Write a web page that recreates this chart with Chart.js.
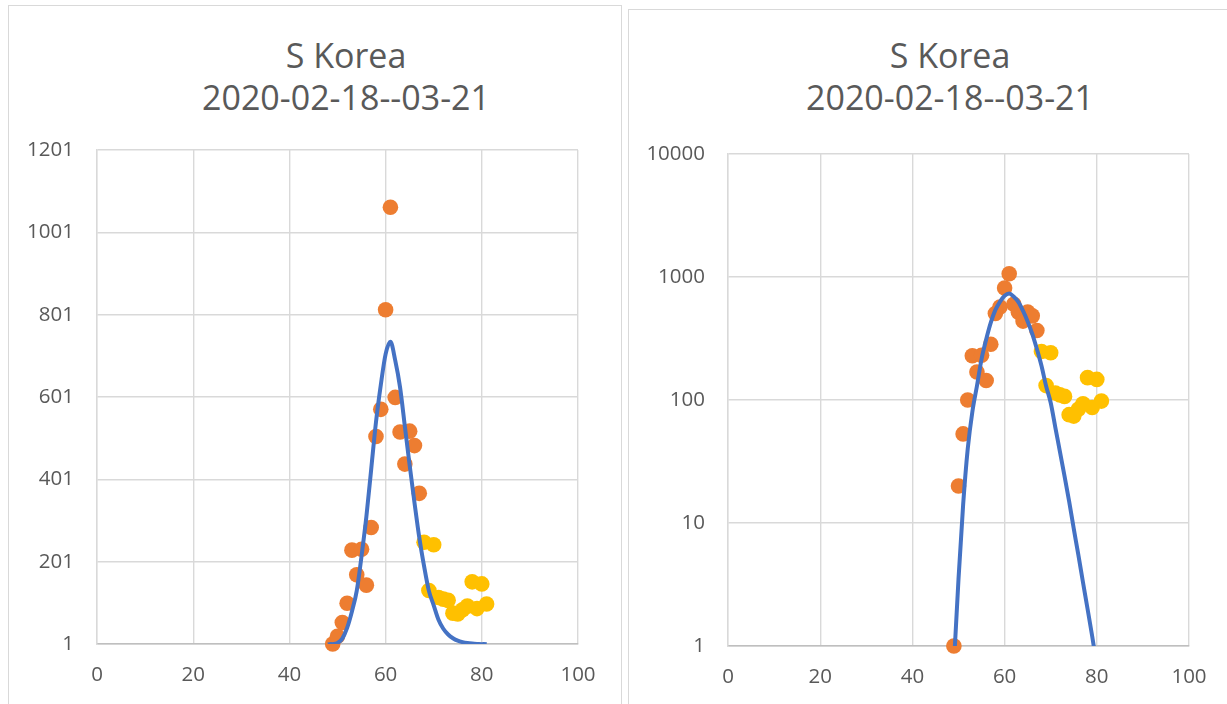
<!DOCTYPE html>
<html><head><meta charset="utf-8">
<script src="https://cdn.jsdelivr.net/npm/chart.js@4.4.1/dist/chart.umd.min.js"></script>
<style>
html,body{margin:0;padding:0;background:#fff;width:1227px;height:704px;overflow:hidden;position:relative;}
.panel{position:absolute;border:1px solid #d9d9d9;background:#fff;box-sizing:border-box;}
.title{position:absolute;font-family:"Open Sans",sans-serif;font-size:34px;line-height:42px;color:#595959;text-align:center;white-space:nowrap;width:600px;}
canvas{position:absolute;}
</style></head><body>
<div class="panel" style="left:8px;top:5px;width:614px;height:720px"></div>
<div class="panel" style="left:628px;top:9px;width:620px;height:720px"></div>
<div class="title" id="t1" style="left:46px;top:34px"></div>
<div class="title" id="t2" style="left:650px;top:34px"></div>
<canvas id="c1" width="614" height="699" style="left:8px;top:5px"></canvas>
<canvas id="c2" width="599" height="695" style="left:628px;top:9px"></canvas>
<script>
// ---- data ----
const titleLines = ["S Korea", "2020-02-18--03-21"];
const earlyDays = [49,50,51,52,53,54,55,56,57,58,59,60,61,62,63,64,65,66,67];
const earlyCases = [1,20,53,100,229,169,231,144,284,505,571,813,1062,600,516,438,518,483,367];
const lateDays = [68,69,70,71,72,73,74,75,76,77,78,79,80,81];
const lateCases = [248,131,242,114,110,107,76,74,84,93,152,87,147,98];
const fitDays = [48,49,50,51,52,53,54,55,56,57,58,59,60,61,62,63,64,65,66,67,68,69,70,71,72,73,74,75,76,77,78,79,80,81];
const fitCases = [0.13,0.7,3.5,14,40,80,130,215,310,425,540,630,705,735,690,625,530,435,345,260,190,130,95,60,38,24,15,9,5.5,3.3,2,1.2,0.7,0.4];
const xTicks = [0,20,40,60,80,100];
const linTicks = [1,201,401,601,801,1001,1201];
const logTicks = [1,10,100,1000,10000];

document.getElementById('t1').innerHTML = titleLines.join('<br>');
document.getElementById('t2').innerHTML = titleLines.join('<br>');

const pts = (xs, ys) => xs.map((x, i) => ({x: x, y: ys[i]}));
const TXT = '#595959';
const GRID = '#d9d9d9';

function makeChart(id, yType, yTickVals, g) {
  new Chart(document.getElementById(id), {
    type: 'scatter',
    data: {
      datasets: [
        {label: 'fit', data: pts(fitDays, fitCases), showLine: true, pointRadius: 0,
         borderColor: '#4472C4', borderWidth: 4, cubicInterpolationMode: 'monotone', fill: false},
        {label: 'early', data: pts(earlyDays, earlyCases), pointRadius: 7.8, pointBorderWidth: 0,
         backgroundColor: '#ED7D31', borderColor: '#ED7D31', clip: false},
        {label: 'late', data: pts(lateDays, lateCases), pointRadius: 7.8, pointBorderWidth: 0,
         backgroundColor: '#FFC000', borderColor: '#FFC000', clip: false}
      ]
    },
    options: {
      responsive: false, animation: false, devicePixelRatio: 1,
      layout: {padding: {left: 0, right: g.right, top: g.top, bottom: 0}},
      plugins: {legend: {display: false}, tooltip: {enabled: false}, title: {display: false}},
      scales: {
        x: {
          type: 'linear', min: 0, max: 100,
          afterBuildTicks: s => { s.ticks = xTicks.map(v => ({value: v})); },
          afterFit: s => { s.height = g.xh; },
          grid: {color: GRID, lineWidth: 1.4, drawTicks: false},
          border: {color: '#bfbfbf', width: 1.5},
          ticks: {color: TXT, padding: 19, font: {family: 'Open Sans', size: 20.5}, maxRotation: 0,
                  callback: v => String(v)}
        },
        y: {
          type: yType, min: 1, max: yTickVals[yTickVals.length - 1],
          afterBuildTicks: s => { s.ticks = yTickVals.map(v => ({value: v})); },
          afterFit: s => { s.width = g.yw; },
          grid: {color: GRID, lineWidth: 1.4, drawTicks: false},
          border: {color: GRID, width: 1.4},
          ticks: {color: TXT, padding: 23, font: {family: 'Open Sans', size: 20.5},
                  callback: v => String(v)}
        }
      }
    }
  });
}

makeChart('c1', 'linear', linTicks, {right: 44, top: 145, xh: 60, yw: 89});
makeChart('c2', 'logarithmic', logTicks, {right: 38, top: 145, xh: 58, yw: 100});
</script>
</body></html>
